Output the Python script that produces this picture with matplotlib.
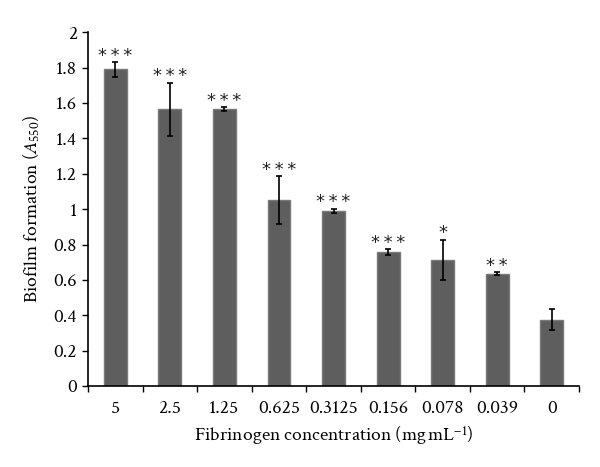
import matplotlib
matplotlib.use('Agg')
import matplotlib.pyplot as plt
import numpy as np

# Datos
concentraciones = ['5', '2.5', '1.25', '0.625', '0.3125', '0.156', '0.078', '0.039', '0']
biofilm = [1.79, 1.565, 1.565, 1.05, 0.99, 0.757, 0.713, 0.636, 0.376]
error = [0.04, 0.15, 0.01, 0.135, 0.01, 0.015, 0.115, 0.006, 0.06]
signif = ['***', '***', '***', '***', '***', '***', '*', '**', '']

plt.rcParams['font.family'] = ['Crimson Text', 'Liberation Serif', 'DejaVu Serif']
plt.rcParams['mathtext.fontset'] = 'custom'
plt.rcParams['mathtext.rm'] = 'Crimson Text'
plt.rcParams['mathtext.it'] = 'Crimson Text:italic'

fig = plt.figure(figsize=(6.0, 4.67), dpi=100)
ax = fig.add_axes([0.1467, 0.1734, 0.8183, 0.7574])

x = np.arange(len(concentraciones))
ax.bar(x, biofilm, width=0.42, color='#5e5e5e', edgecolor='#7a7a7a', linewidth=1.0,
       yerr=error, error_kw=dict(ecolor='black', elinewidth=1.2, capsize=2.5, capthick=1.2))

# Asteriscos de significancia
for xi, v, e, s in zip(x, biofilm, error, signif):
    if s:
        ax.text(xi, v + e - 0.012, '\u2009'.join(s), ha='center', va='bottom', fontsize=13,
                family='DejaVu Sans', color='#222222')

ax.set_xlim(-0.5, len(concentraciones) - 0.5)
ax.set_ylim(0, 2)
ax.set_yticks(np.arange(0, 2.01, 0.2))
ax.set_yticklabels(['%g' % round(t, 1) for t in np.arange(0, 2.01, 0.2)])

ax.set_xticks(x)
ax.set_xticklabels(concentraciones)
ax.set_xticks(np.arange(-0.5, len(concentraciones), 1.0), minor=True)
ax.tick_params(axis='x', which='major', length=0, pad=10)
ax.tick_params(axis='x', which='minor', length=4, width=1, direction='out')
ax.tick_params(axis='y', length=4, width=1, direction='out', pad=4)
ax.tick_params(labelsize=14)

for lado in ['top', 'right']:
    ax.spines[lado].set_visible(False)
for lado in ['left', 'bottom']:
    ax.spines[lado].set_linewidth(1.2)

ax.set_ylabel('Biofilm formation ($A_{550}$)', fontsize=14, labelpad=8)
ax.set_xlabel('Fibrinogen concentration (mg$\\,$mL$^{-1}$)', fontsize=14, labelpad=6)

fig.savefig('out.png', dpi=100)
